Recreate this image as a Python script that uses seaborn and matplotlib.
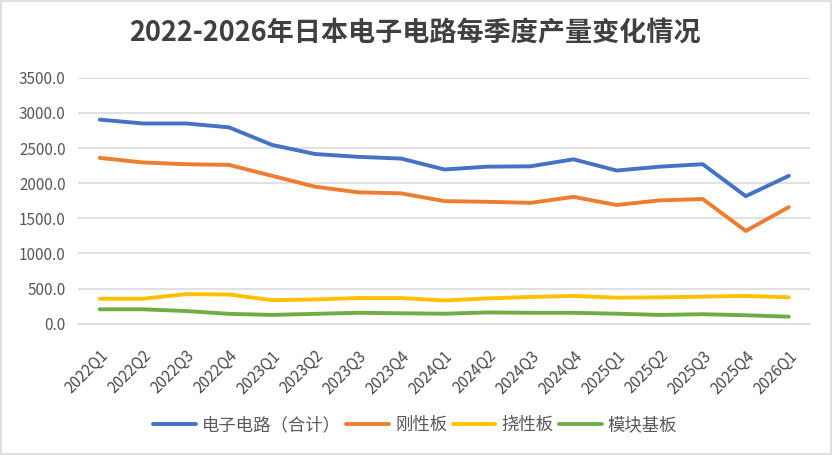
import matplotlib
matplotlib.use("Agg")
import matplotlib.pyplot as plt
import seaborn as sns
import pandas as pd
from matplotlib.patches import Rectangle
from matplotlib.ticker import FuncFormatter, MultipleLocator

quarters = ["2022Q1", "2022Q2", "2022Q3", "2022Q4",
            "2023Q1", "2023Q2", "2023Q3", "2023Q4",
            "2024Q1", "2024Q2", "2024Q3", "2024Q4",
            "2025Q1", "2025Q2", "2025Q3", "2025Q4",
            "2026Q1"]
total = [2905, 2850, 2850, 2795, 2545, 2415, 2375, 2350,
         2195, 2235, 2240, 2340, 2180, 2235, 2270, 1815, 2105]
rigid = [2360, 2295, 2270, 2260, 2105, 1950, 1870, 1855,
         1745, 1735, 1720, 1805, 1690, 1755, 1775, 1320, 1660]
flexible = [355, 355, 420, 415, 335, 345, 365, 365,
            330, 360, 380, 395, 370, 375, 385, 395, 375]
module = [205, 205, 180, 140, 125, 140, 155, 148,
          142, 160, 155, 155, 142, 125, 135, 120, 100]
series_names = ["电子电路（合计）", "刚性板", "挠性板", "模块基板"]
colors = ["#4472C4", "#ED7D31", "#FFC000", "#70AD47"]
title = "2022-2026年日本电子电路每季度产量变化情况"

rows = []
for name, vals in zip(series_names, [total, rigid, flexible, module]):
    for q, v in zip(quarters, vals):
        rows.append({"季度": q, "产量": v, "系列": name})
df = pd.DataFrame(rows)

sns.set_theme(style="white")
plt.rcParams["font.family"] = ["Noto Sans CJK SC", "DejaVu Sans"]

fig = plt.figure(figsize=(8.32, 4.55), dpi=100)
ax = fig.add_axes([0.094, 0.2886, 0.880, 0.5404])

sns.lineplot(data=df, x="季度", y="产量", hue="系列", hue_order=series_names,
             palette=colors, linewidth=2.8, sort=False, ax=ax, legend=True)

ax.set_xlim(-0.5, len(quarters) - 0.5)
ax.set_ylim(0, 3500)
ax.yaxis.set_major_locator(MultipleLocator(500))
ax.yaxis.set_major_formatter(FuncFormatter(lambda v, p: f"{v:.1f}"))
ax.grid(axis="y", color="#D9D9D9", linewidth=1.1)
ax.set_axisbelow(True)
for s in ["top", "right", "left"]:
    ax.spines[s].set_visible(False)
ax.spines["bottom"].set_color("#D9D9D9")
ax.spines["bottom"].set_linewidth(1.1)
ax.set_xlabel("")
ax.set_ylabel("")
ax.tick_params(axis="y", length=0, pad=9, labelsize=11, labelcolor="#595959")
ax.tick_params(axis="x", length=0, pad=17, labelsize=11, labelcolor="#4a4a4a")
ax.set_xticks(range(len(quarters)))
ax.set_xticklabels(quarters, rotation=45, ha="right", rotation_mode="anchor")

handles, labels = ax.get_legend_handles_labels()
ax.get_legend().remove()
leg = fig.legend(handles, labels, loc="center", bbox_to_anchor=(0.499, 0.066),
                 ncol=4, frameon=False, fontsize=12.5, handlelength=2.47,
                 handletextpad=0.35, columnspacing=0.3)
for t in leg.get_texts():
    t.set_color("#595959")
for h in leg.get_lines():
    h.set_linewidth(2.8)

fig.text(0.499, 0.927, title, ha="center", va="center", fontsize=19.5,
         fontweight="bold", color="#404040")

fig.patches.append(Rectangle((0.0008, 0.0012), 0.9984, 0.9976, transform=fig.transFigure,
                             fill=False, edgecolor="#D9D9D9", linewidth=1.2))

fig.savefig("out.png", dpi=100, facecolor="white")
